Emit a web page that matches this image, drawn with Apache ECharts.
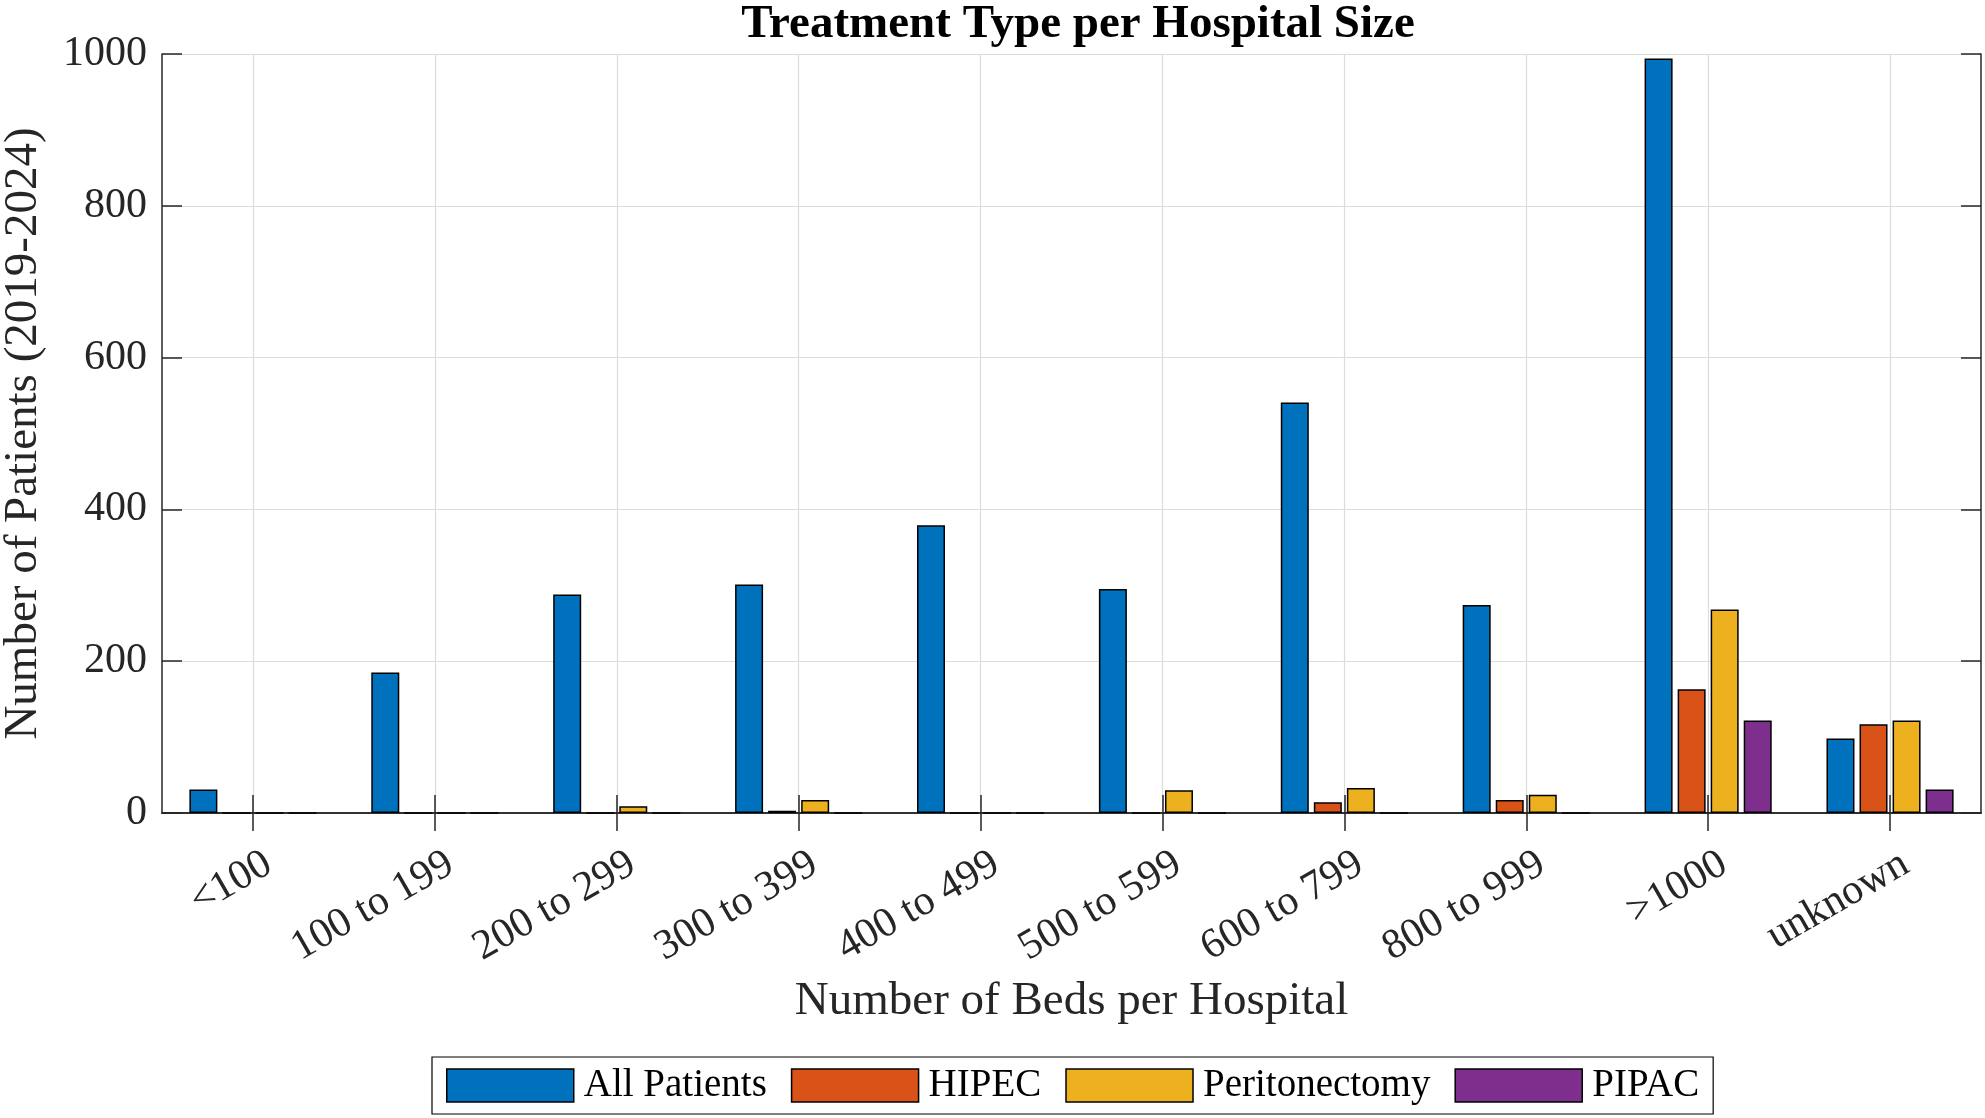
<!DOCTYPE html>
<html>
<head>
<meta charset="utf-8">
<script src="https://cdn.jsdelivr.net/npm/echarts@6/dist/echarts.min.js"></script>
<style>
html,body{margin:0;padding:0;background:#fff;}
#chart{width:1985px;height:1118px;}
</style>
</head>
<body>
<div id="chart"></div>
<script>
const categories = ['<100','100 to 199','200 to 299','300 to 399','400 to 499','500 to 599','600 to 799','800 to 999','>1000','unknown'];
const allPatients   = [31, 185, 288, 301, 379, 295, 541, 274, 994, 98];
const hipec         = [0, 0, 0, 3, 0, 0, 14, 17, 163, 117];
const peritonectomy = [0, 0, 9, 17, 0, 30, 33, 24, 268, 122];
const pipac         = [0, 0, 0, 0, 0, 0, 0, 0, 122, 31];
const yTicks = [0, 200, 400, 600, 800, 1000];
const seriesNames = ['All Patients','HIPEC','Peritonectomy','PIPAC'];
const colors = ['#0072BD','#D95319','#EDB120','#7E2F8E'];

const FONT = '"Liberation Serif","Times New Roman",serif';
const chart = echarts.init(document.getElementById('chart'), null, {renderer:'canvas'});
const seriesData = [allPatients, hipec, peritonectomy, pipac];
const axisColor = '#262626';
const gridColor = '#dcdcdc';

chart.setOption({
  animation:false,
  color: colors,
  textStyle:{fontFamily:FONT},
  title:{
    text:'Treatment Type per Hospital Size',
    left: 1073, top: -4, textAlign:'center',
    textStyle:{fontFamily:FONT, fontWeight:'bold', fontSize:47, color:'#000'}
  },
  legend:{
    bottom: 4, left:432,
    data: seriesNames,
    icon:'rect',
    itemWidth:127, itemHeight:33, itemGap:24,
    padding:[9,14],
    borderColor:'#000', borderWidth:1.2, backgroundColor:'#fff',
    itemStyle:{borderColor:'#000', borderWidth:1.5},
    textStyle:{fontFamily:FONT, fontSize:39, color:'#000', padding:[0,0,0,5]}
  },
  grid:{left:162, right:4, top:54, bottom:305, containLabel:false, outerBoundsMode:'none'},
  xAxis:[{
    type:'category', data:categories, position:'bottom',
    boundaryGap:true,
    name:'Number of Beds per Hospital', nameLocation:'middle', nameGap:165,
    nameTextStyle:{fontFamily:FONT, fontSize:47, color:axisColor},
    axisLine:{show:true, lineStyle:{color:axisColor, width:1.5}},
    axisTick:{show:true, inside:true, alignWithLabel:true, length:18, lineStyle:{color:axisColor, width:1.5}},
    axisLabel:{rotate:30, fontFamily:FONT, fontSize:42, color:axisColor, margin:33, interval:0,
      align:'right', verticalAlign:'top', padding:[0,-6,0,0]},
    splitLine:{show:true, alignWithLabel:true, lineStyle:{color:gridColor, width:1.2}}
  },{
    type:'category', data:categories, position:'top',
    boundaryGap:true,
    axisLine:{show:true, lineStyle:{color:axisColor, width:1.5}},
    axisTick:{show:true, inside:true, alignWithLabel:true, length:18, lineStyle:{color:axisColor, width:1.5}},
    axisLabel:{show:false},
    splitLine:{show:false}
  }],
  yAxis:[{
    type:'value', min:0, max:1000, interval:200, position:'left',
    name:'Number of Patients (2019-2024)', nameLocation:'middle', nameGap:115,
    nameTextStyle:{fontFamily:FONT, fontSize:47, color:axisColor},
    axisLine:{show:true, lineStyle:{color:axisColor, width:1.5}},
    axisTick:{show:true, inside:true, length:20, lineStyle:{color:axisColor, width:1.5}},
    axisLabel:{fontFamily:FONT, fontSize:42, color:axisColor, margin:15,
      formatter: v => yTicks.includes(v) ? String(v) : ''},
    splitLine:{show:true, lineStyle:{color:gridColor, width:1.2}}
  },{
    type:'value', min:0, max:1000, interval:200, position:'right',
    axisLine:{show:true, lineStyle:{color:axisColor, width:1.5}},
    axisTick:{show:true, inside:true, length:20, lineStyle:{color:axisColor, width:1.5}},
    axisLabel:{show:false},
    splitLine:{show:false}
  }],
  series: seriesNames.map((n,i)=>({
    name:n, type:'bar', xAxisIndex:0, yAxisIndex:0,
    data: seriesData[i],
    barWidth:28, barGap:'18%',
    itemStyle:{color:colors[i], borderColor:'#000', borderWidth:1.5}
  }))
});
</script>
</body>
</html>
